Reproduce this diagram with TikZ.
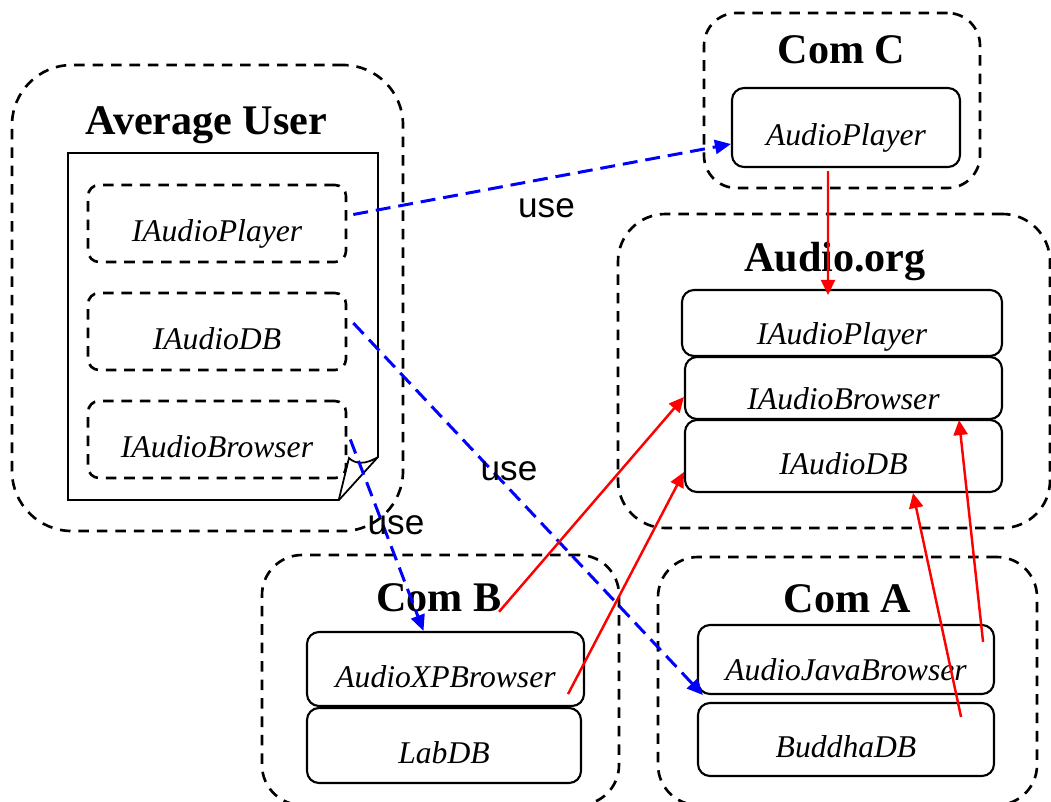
\documentclass[tikz,border=0pt]{standalone}
\usepackage{fontspec}
\setmainfont{Liberation Serif}
\newfontfamily\arialfont{Liberation Sans}
\usetikzlibrary{positioning,arrows.meta}

\begin{document}
\begin{tikzpicture}[node distance=2.16cm]
  \tikzstyle{group} = [rectangle, draw=black, line width=1.5pt, dash pattern=on 6pt off 4.5pt, rounded corners=0.8cm]
  \tikzstyle{title} = [font=\fontsize{24}{28}\selectfont\bfseries, anchor=base, inner sep=0pt]
  \tikzstyle{iface} = [rectangle, rounded corners=0.22cm, draw=black, line width=1.5pt, dash pattern=on 6pt off 4.5pt, minimum width=5.16cm, minimum height=1.54cm, text height=20pt, text depth=0pt, font=\fontsize{18}{22}\selectfont\itshape]
  \tikzstyle{comp} = [rectangle, rounded corners=0.24cm, draw=black, line width=1.2pt, text height=21pt, text depth=0pt, font=\fontsize{18}{22}\selectfont\itshape]
  \tikzstyle{usearrow} = [blue, line width=1.7pt, dash pattern=on 8.5pt off 4.5pt, ->, >={Triangle[length=0.32cm,width=0.28cm]}]
  \tikzstyle{implarrow} = [red, line width=1.4pt, ->, >={Triangle[length=0.3cm,width=0.28cm]}]
  \tikzstyle{uselabel} = [font=\fontsize{20}{24}\selectfont\arialfont, inner sep=0pt]

  \fill [white] (0,0) rectangle (21.02,-16.02);
  \clip (0,0) rectangle (21.02,-16.02);

  \node (user) [group, minimum width=7.82cm, minimum height=9.32cm, rounded corners=1.2cm] at (4.15,-5.96) {};
  \node (comC) [group, minimum width=5.52cm, minimum height=3.5cm, rounded corners=0.65cm] at (16.84,-2.01) {};
  \node (org) [group, minimum width=8.64cm, minimum height=6.28cm, rounded corners=0.95cm] at (16.68,-7.42) {};
  \node (comB) [group, minimum width=7.14cm, minimum height=5cm] at (8.81,-13.6) {};
  \node (comA) [group, minimum width=7.58cm, minimum height=4.96cm] at (16.95,-13.62) {};

  \node (userTitle) [title] at (4.13,-2.68) {Average User};
  \node (comCTitle) [title] at (16.83,-1.26) {Com C};
  \node (orgTitle) [title] at (16.7,-5.42) {Audio.org};
  \node (comBTitle) [title] at (8.78,-12.22) {Com B};
  \node (comATitle) [title] at (16.95,-12.24) {Com A};

  % document with folded corner
  \draw [line width=1pt] (1.36,-3.06) -- (7.56,-3.06) -- (7.56,-9.14) -- (6.78,-10) -- (1.36,-10) -- cycle;
  \draw [line width=1pt] (7.56,-9.14) .. controls (7.3,-9.3) and (7.1,-9.28) .. (6.98,-9.16) -- (6.78,-9.98);

  \node (uplayer) [iface] at (4.34,-4.47) {IAudioPlayer};
  \node (udb) [iface, below of=uplayer] {IAudioDB};
  \node (ubrowser) [iface, below of=udb] {IAudioBrowser};

  \node (cplayer) [comp, minimum width=4.56cm, minimum height=1.58cm] at (16.92,-2.55) {AudioPlayer};
  \node (oplayer) [comp, minimum width=6.4cm, minimum height=1.32cm, text height=24pt] at (16.84,-6.46) {IAudioPlayer};
  \node (obrowser) [comp, minimum width=6.34cm, minimum height=1.24cm, text height=24pt] at (16.87,-7.76) {IAudioBrowser};
  \node (odb) [comp, minimum width=6.34cm, minimum height=1.44cm] at (16.87,-9.12) {IAudioDB};
  \node (xpbrowser) [comp, minimum width=5.54cm, minimum height=1.48cm] at (8.91,-13.38) {AudioXPBrowser};
  \node (labdb) [comp, minimum width=5.48cm, minimum height=1.5cm] at (8.88,-14.91) {LabDB};
  \node (javabrowser) [comp, minimum width=5.92cm, minimum height=1.38cm, text height=24pt] at (16.92,-13.19) {AudioJavaBrowser};
  \node (buddhadb) [comp, minimum width=5.92cm, minimum height=1.46cm] at (16.92,-14.79) {BuddhaDB};

  \draw [usearrow] ([shift={(0.12cm,0.18cm)}]uplayer.east) -- ([yshift=-0.33cm]cplayer.west);
  \draw [usearrow] ([shift={(0.12cm,0.17cm)}]udb.east) -- ([xshift=0.12cm]javabrowser.south west);
  \draw [usearrow] ([xshift=0.06cm]ubrowser.east) -- ([xshift=-0.44cm]xpbrowser.north);
  \node (use1) [uselabel] at (10.93,-4.16) {use};
  \node (use2) [uselabel] at (10.18,-9.42) {use};
  \node (use3) [uselabel] at (7.92,-10.5) {use};

  \draw [implarrow] ([shift={(-0.36cm,-0.06cm)}]cplayer.south) -- ([shift={(-0.28cm,-0.12cm)}]oplayer.north);
  \draw [implarrow] ([xshift=-0.06cm]comBTitle.south east) -- ([yshift=-0.18cm]obrowser.west);
  \draw [implarrow] ([shift={(-0.34cm,0.26cm)}]xpbrowser.south east) -- ([yshift=-0.32cm]odb.west);
  \draw [implarrow] ([shift={(-0.68cm,-0.3cm)}]buddhadb.north east) -- ([xshift=1.39cm]odb.south);
  \draw [implarrow] ([shift={(-0.24cm,-0.36cm)}]javabrowser.north east) -- ([xshift=2.31cm]obrowser.south);
\end{tikzpicture}
\end{document}
